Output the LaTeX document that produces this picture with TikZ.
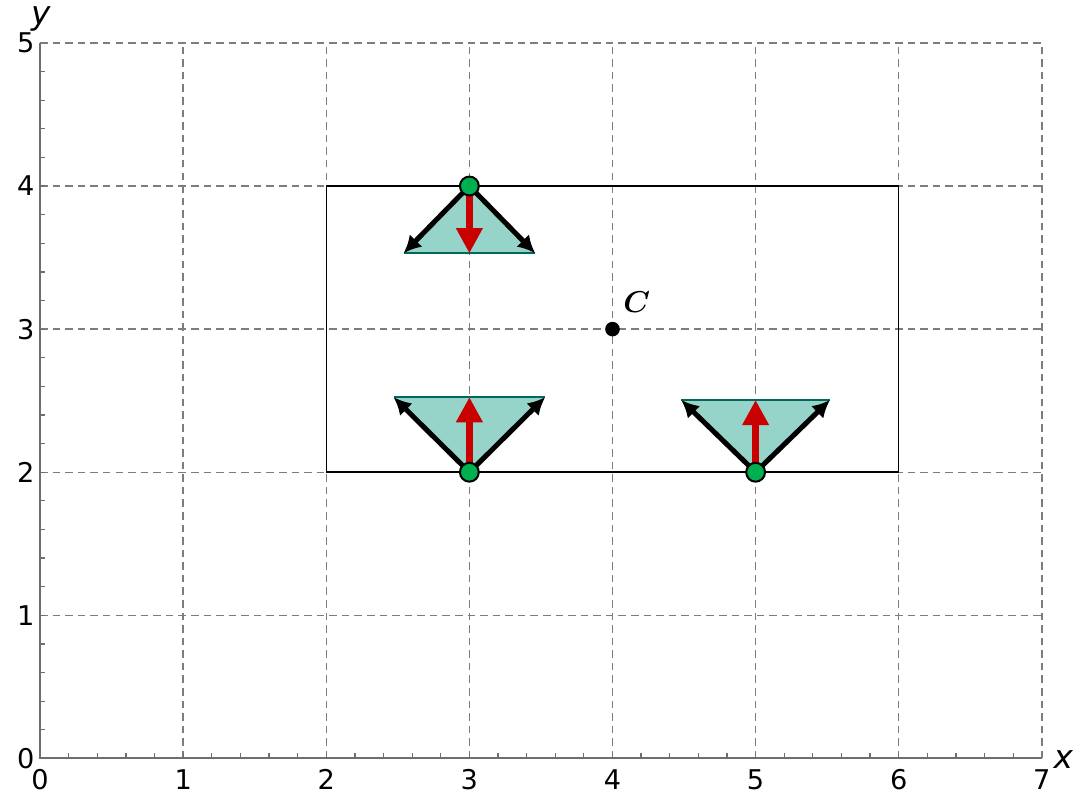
\documentclass[tikz,border=0pt]{standalone}
\usepackage{fontspec}
\setmainfont{DejaVu Sans}
\usetikzlibrary{arrows.meta}
\definecolor{tealfill}{RGB}{150,212,202}
\definecolor{tealedge}{RGB}{0,105,92}
\definecolor{redarr}{RGB}{200,0,0}
\definecolor{greenpt}{RGB}{0,176,80}
\definecolor{gridgray}{RGB}{125,125,125}
\definecolor{axisgray}{RGB}{110,110,110}
\tikzset{
  gridline/.style={gridgray, line width=0.55pt, dash pattern=on 3pt off 2pt},
  axisline/.style={axisgray, line width=0.8pt},
  ticklbl/.style={font=\fontsize{10.8}{13}\selectfont, inner sep=0pt},
  axislbl/.style={font=\fontsize{13}{15}\itshape, inner sep=0pt},
  tri/.style={fill=tealfill, draw=none},
  triedge/.style={tealedge, line width=0.9pt},
  blackarr/.style={black, line width=2pt, -{Latex[length=7pt,width=7pt]}, shorten <=1pt},
  redarrow/.style={redarr, line width=3pt, -{Triangle[length=10pt,width=10pt]}},
  gpt/.style={circle, fill=greenpt, draw=black, line width=0.8pt, minimum size=7.5pt, inner sep=0pt},
  cpt/.style={circle, fill=black, minimum size=5.8pt, inner sep=0pt},
}
\begin{document}
\begin{tikzpicture}[x=2cm,y=2cm]
\useasboundingbox (-0.28,-0.245) rectangle (7.26,5.30);
% grid
\foreach \i in {1,...,7} \draw[gridline] (\i,0) -- (\i,5);
\foreach \j in {1,...,5} \draw[gridline] (0,\j) -- (7,\j);
% axes
\draw[axisline] (0,5) -- (0,0) -- (7,0);
\foreach \t in {0.2,0.4,...,6.9} \draw[axisgray, line width=0.5pt] (\t,0) -- (\t,0.035);
\foreach \t in {0.2,0.4,...,4.9} \draw[axisgray, line width=0.5pt] (0,\t) -- (0.035,\t);
% tick labels
\foreach \i in {0,...,7} \node[ticklbl, anchor=base] (xl\i) at (\i,-0.22) {\i};
\foreach \j in {0,...,5} \node[ticklbl] (yl\j) at (-0.1,\j) {\j};
\node[axislbl] (xlab) at (7.15,-0.01) {x};
\node[axislbl] (ylab) at (0.005,5.17) {y};
% rectangle
\draw[black, line width=0.6pt] (2,2) rectangle (6,4);
% point C
\node[cpt] (c) at (4,3) {};
\node[font=\fontsize{13}{15}\selectfont\boldmath, inner sep=0pt] (clab) at (4.17,3.19) {$C$};
% top triangle
\coordinate (p1) at (3,4);
\coordinate (p1l) at (2.54,3.53);
\coordinate (p1r) at (3.46,3.53);
\coordinate (p1m) at (3,3.53);
\fill[tri] (p1) -- (p1l) -- (p1r) -- cycle;
\draw[triedge] (p1l) -- (p1r);
\draw[blackarr] (p1) -- (p1l);
\draw[blackarr] (p1) -- (p1r);
\draw[redarrow] (p1) -- (p1m);
\node[gpt] (g1) at (p1) {};
% bottom-left triangle
\coordinate (p2) at (3,2);
\coordinate (p2l) at (2.47,2.525);
\coordinate (p2r) at (3.53,2.525);
\coordinate (p2m) at (3,2.525);
\fill[tri] (p2) -- (p2l) -- (p2r) -- cycle;
\draw[triedge] (p2l) -- (p2r);
\draw[blackarr] (p2) -- (p2l);
\draw[blackarr] (p2) -- (p2r);
\draw[redarrow] (p2) -- (p2m);
\node[gpt] (g2) at (p2) {};
% bottom-right triangle
\coordinate (p3) at (5,2);
\coordinate (p3l) at (4.48,2.505);
\coordinate (p3r) at (5.52,2.505);
\coordinate (p3m) at (5,2.505);
\fill[tri] (p3) -- (p3l) -- (p3r) -- cycle;
\draw[triedge] (p3l) -- (p3r);
\draw[blackarr] (p3) -- (p3l);
\draw[blackarr] (p3) -- (p3r);
\draw[redarrow] (p3) -- (p3m);
\node[gpt] (g3) at (p3) {};
\end{tikzpicture}
\end{document}
